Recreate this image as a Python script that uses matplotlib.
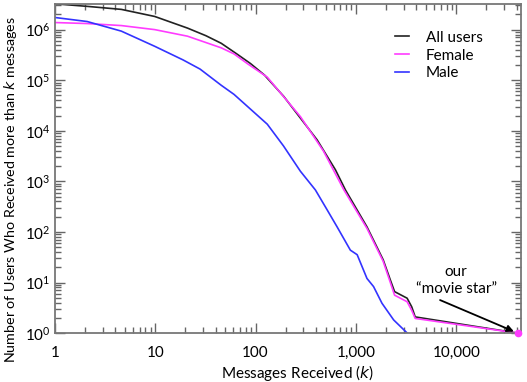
import numpy as np
import matplotlib.pyplot as plt
from matplotlib.ticker import LogLocator, FuncFormatter, NullFormatter

plt.rcParams['font.family'] = ['Lato', 'DejaVu Sans']
plt.rcParams['mathtext.default'] = 'regular'

# messages received k, log10 of number of users who received more than k
k_all = [1, 2.1, 4.6, 9.9, 21, 32, 45.5, 65, 89, 123, 191, 411, 625, 787, 1290, 1870,
         2205, 2430, 3240, 3600, 3900, 41000]
logn_all = [6.51, 6.46, 6.40, 6.26, 6.03, 5.88, 5.73, 5.52, 5.33, 5.10, 4.68, 3.82,
            3.23, 2.83, 2.10, 1.45, 1.05, 0.82, 0.69, 0.52, 0.32, 0.0]

k_fem = [1, 2.1, 4.6, 9.9, 21, 45.5, 61, 84, 131, 280, 475, 760, 1290, 1870, 2205,
         2430, 3240, 3600, 3900, 41000]
logn_fem = [6.14, 6.12, 6.08, 6.00, 5.87, 5.64, 5.52, 5.32, 5.06, 4.28, 3.60, 2.83,
            2.07, 1.42, 1.00, 0.75, 0.62, 0.45, 0.29, 0.0]

k_male = [1, 2.1, 4.6, 9.9, 19, 28, 45.5, 61, 90, 131, 190, 280, 395, 516, 650,
          881, 1030, 1290, 1500, 1820, 2380, 3250]
logn_male = [6.24, 6.16, 5.97, 5.67, 5.40, 5.22, 4.90, 4.72, 4.42, 4.13, 3.70, 3.20,
             2.83, 2.44, 2.10, 1.64, 1.55, 1.08, 0.92, 0.59, 0.26, 0.0]

star_k = 41000
star_n = 1

fig = plt.figure(figsize=(5.27, 3.82), dpi=100)
ax = fig.add_axes([0.104, 0.128, 0.885, 0.862])

ax.plot(k_all, 10 ** np.array(logn_all), color='#222222', lw=1.2, label='All users')
ax.plot(k_fem, 10 ** np.array(logn_fem), color='#ff3cff', lw=1.2, label='Female')
ax.plot(k_male, 10 ** np.array(logn_male), color='#3333ff', lw=1.2, label='Male')
ax.plot([star_k], [star_n], 'o', color='#ff3cff', ms=4.5, clip_on=False, zorder=5)

ax.set_xscale('log')
ax.set_yscale('log')
ax.set_xlim(1, 44400)
ax.set_ylim(1, 10 ** 6.51)

ax.xaxis.set_major_locator(LogLocator(base=10, numticks=10))
ax.xaxis.set_minor_locator(LogLocator(base=10, subs=np.arange(2, 10), numticks=20))
ax.xaxis.set_major_formatter(FuncFormatter(lambda v, p: '{:,}'.format(int(round(v)))))
ax.xaxis.set_minor_formatter(NullFormatter())
ax.yaxis.set_major_locator(LogLocator(base=10, numticks=10))
ax.yaxis.set_minor_locator(LogLocator(base=10, subs=np.arange(2, 10), numticks=20))
ax.yaxis.set_minor_formatter(NullFormatter())

ax.tick_params(which='both', direction='in', top=True, right=True, color='#666666',
               labelsize=11)
ax.tick_params(which='major', length=7, width=1)
ax.tick_params(which='minor', length=4, width=1)
ax.tick_params(axis='x', pad=9)
ax.tick_params(axis='y', pad=3)
for s in ax.spines.values():
    s.set_color('#777777')
    s.set_linewidth(1.3)

ax.set_xlabel('Messages Received ($\\mathit{k}$)', fontsize=11)
ax.set_ylabel('Number of Users Who Received more than $\\mathit{k}$ messages',
              fontsize=10.3)
ax.xaxis.set_label_coords(0.52, -0.09)
ax.yaxis.set_label_coords(-0.076, 0.435)

ax.legend(loc='upper left', bbox_to_anchor=(0.70, 0.96), frameon=False, fontsize=11,
          handlelength=0.9, handletextpad=1.1, labelspacing=0.25)

ax.annotate('', xy=(star_k, star_n), xytext=(6900, 4.5),
            arrowprops=dict(arrowstyle='-|>', color='black', lw=1.3,
                            mutation_scale=10, shrinkA=0, shrinkB=3))
ax.text(10000, 5.4, 'our\n\u201cmovie star\u201d', ha='center', va='bottom',
        fontsize=11, linespacing=1.3)

fig.savefig('out.png', dpi=100)
